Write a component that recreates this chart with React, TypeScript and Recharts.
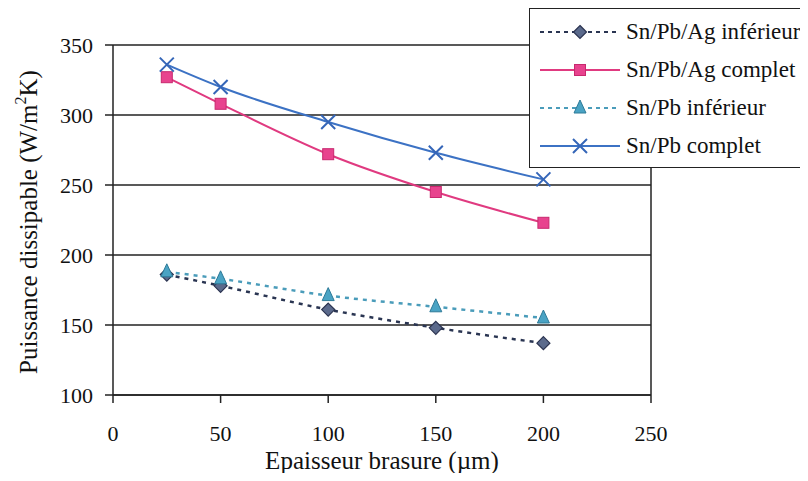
import React from 'react';
import { LineChart, Line, XAxis, YAxis, CartesianGrid, ReferenceLine } from 'recharts';

const thickness = [25, 50, 100, 150, 200];
const snPbAgInferieur = [186, 178, 161, 148, 137];
const snPbAgComplet = [327, 308, 272, 245, 223];
const snPbInferieur = [188, 183, 171, 163, 155];
const snPbComplet = [336, 320, 295, 273, 254];
const xTicks = [0, 50, 100, 150, 200, 250];
const yTicks = [100, 150, 200, 250, 300, 350];

const seriesNames = ['Sn/Pb/Ag inférieur', 'Sn/Pb/Ag complet', 'Sn/Pb inférieur', 'Sn/Pb complet'];

const chartData = thickness.map((t, i) => ({
  t,
  agInf: snPbAgInferieur[i],
  agComp: snPbAgComplet[i],
  pbInf: snPbInferieur[i],
  pbComp: snPbComplet[i],
}));

const FONT = 'Liberation Serif, Times New Roman, Tinos, DejaVu Serif, Noto Serif, serif';

// marker shapes
const Diamond = ({ cx, cy }: any) => (
  <path d={`M${cx},${cy - 6.5} L${cx + 6.5},${cy} L${cx},${cy + 6.5} L${cx - 6.5},${cy} Z`} fill="#5b6a8c" stroke="#2b3350" strokeWidth={1.2} />
);
const Square = ({ cx, cy }: any) => (
  <rect x={cx - 5.5} y={cy - 5.5} width={11} height={11} fill="#e8438e" stroke="#c8286e" strokeWidth={1} />
);
const Triangle = ({ cx, cy }: any) => (
  <path d={`M${cx},${cy - 8} L${cx + 6},${cy + 5} L${cx - 6},${cy + 5} Z`} fill="#4aa3c4" stroke="#2d7a98" strokeWidth={1} />
);
const Cross = ({ cx, cy }: any) => (
  <path d={`M${cx - 7},${cy - 7} L${cx + 7},${cy + 7} M${cx + 7},${cy - 7} L${cx - 7},${cy + 7}`} stroke="#3566b8" strokeWidth={2} fill="none" />
);

const legendRows = [
  { name: seriesNames[0], color: '#2a3552', dash: '4 4', Marker: Diamond },
  { name: seriesNames[1], color: '#e03a80', dash: undefined, Marker: Square },
  { name: seriesNames[2], color: '#4a9cba', dash: '4 4', Marker: Triangle },
  { name: seriesNames[3], color: '#3c72c4', dash: undefined, Marker: Cross },
];

const LegendBox = () => (
  <div
    style={{
      position: 'absolute',
      left: 529,
      top: 8,
      width: 290,
      height: 160,
      background: '#fff',
      border: '1.5px solid #222',
      boxSizing: 'border-box',
      paddingTop: 4,
      fontFamily: FONT,
      zIndex: 2,
    }}
  >
    {legendRows.map((r) => (
      <div key={r.name} style={{ display: 'flex', alignItems: 'center', height: 38 }}>
        <svg width={88} height={20} style={{ marginLeft: 8, flex: 'none' }}>
          <line x1={2} y1={10} x2={82} y2={10} stroke={r.color} strokeWidth={2} strokeDasharray={r.dash} />
          <r.Marker cx={42} cy={10} />
        </svg>
        <span style={{ fontSize: 23, color: '#111', whiteSpace: 'nowrap' }}>{r.name}</span>
      </div>
    ))}
  </div>
);

const YTitle = () => (
  <text
    x={37}
    y={222}
    transform="rotate(-90 37 222)"
    textAnchor="middle"
    style={{ fontFamily: FONT, fontSize: 25 }}
    fill="#111"
  >
    Puissance dissipable (W/m
    <tspan dy={-11} style={{ fontSize: 16 }}>2</tspan>
    <tspan dy={11}>K)</tspan>
  </text>
);

const tickStyle = { fill: '#111', fontSize: 22, fontFamily: FONT };

export default function App() {
  return (
    <div style={{ margin: -8, width: 808, height: 481, background: '#fff', position: 'relative', fontFamily: FONT }}>
      <LineChart
        width={808}
        height={481}
        data={chartData}
        margin={{ top: 45, right: 157, bottom: 56, left: 53 }}
        style={{ fontFamily: FONT }}
      >
        <CartesianGrid horizontal vertical={false} stroke="#222" strokeWidth={1.5} />
        <ReferenceLine x={250} stroke="#222" strokeWidth={1.5} />
        <XAxis
          dataKey="t"
          type="number"
          domain={[0, 250]}
          ticks={xTicks}
          height={30}
          tickSize={8}
          tickMargin={22}
          axisLine={{ stroke: '#222', strokeWidth: 1.5 }}
          tickLine={{ stroke: '#222', strokeWidth: 1.5 }}
          tick={tickStyle}
          label={{
            value: 'Epaisseur brasure (µm)',
            position: 'bottom',
            offset: 26,
            fill: '#111',
            fontSize: 25,
            fontFamily: FONT,
          }}
        />
        <YAxis
          type="number"
          domain={[100, 350]}
          ticks={yTicks}
          width={60}
          tickSize={8}
          tickMargin={12}
          axisLine={{ stroke: '#222', strokeWidth: 1.5 }}
          tickLine={{ stroke: '#222', strokeWidth: 1.5 }}
          tick={tickStyle}
        />
        <Line
          type="monotone"
          dataKey="agInf"
          name={seriesNames[0]}
          stroke="#2a3552"
          strokeWidth={2.5}
          strokeDasharray="4 5"
          dot={<Diamond />}
          isAnimationActive={false}
        />
        <Line
          type="monotone"
          dataKey="agComp"
          name={seriesNames[1]}
          stroke="#e03a80"
          strokeWidth={2}
          dot={<Square />}
          isAnimationActive={false}
        />
        <Line
          type="monotone"
          dataKey="pbInf"
          name={seriesNames[2]}
          stroke="#4a9cba"
          strokeWidth={2.5}
          strokeDasharray="4 5"
          dot={<Triangle />}
          isAnimationActive={false}
        />
        <Line
          type="monotone"
          dataKey="pbComp"
          name={seriesNames[3]}
          stroke="#3c72c4"
          strokeWidth={2}
          dot={<Cross />}
          isAnimationActive={false}
        />
        <YTitle />
      </LineChart>
      <LegendBox />
    </div>
  );
}
